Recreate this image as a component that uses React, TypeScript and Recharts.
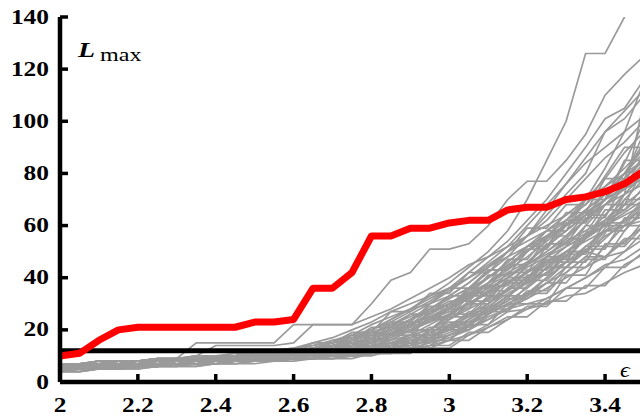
import { LineChart, Line, XAxis, YAxis } from 'recharts';

// epsilon sample points
const eps = [
  2.0, 2.05, 2.1, 2.15, 2.2, 2.25, 2.3, 2.35, 2.4, 2.45, 2.5, 2.55, 2.6, 2.65, 2.7, 2.75,
  2.8, 2.85, 2.9, 2.95, 3.0, 3.05, 3.1, 3.15, 3.2, 3.25, 3.3, 3.35, 3.4, 3.45, 3.5,
];

// highlighted run (red)
const redRun = [
  10, 11, 16, 20, 21, 21, 21, 21, 21, 21, 23, 23, 24, 36, 36, 42,
  56, 56, 59, 59, 61, 62, 62, 66, 67, 67, 70, 71, 73, 76, 81,
];

const threshold = 12;

// the grey ensemble, smoother runs
const greyRuns: number[][] = [
  [5, 5, 6, 6, 6, 7, 7, 7, 8, 8, 8, 9, 9, 10, 10, 11, 11, 12, 12, 13, 13, 18, 22, 27, 28, 30, 33, 34, 38, 42, 45],
  [4, 5, 5, 6, 6, 6, 7, 7, 7, 8, 8, 8, 9, 9, 10, 10, 11, 11, 12, 14, 18, 20, 25, 28, 30, 32, 36, 40, 45, 47, 52],
  [6, 6, 6, 7, 7, 7, 8, 8, 8, 9, 9, 10, 10, 11, 12, 13, 14, 15, 18, 20, 24, 28, 32, 35, 40, 45, 50, 55, 60, 64, 68],
  [5, 5, 6, 6, 7, 7, 8, 8, 9, 9, 10, 10, 11, 12, 13, 14, 16, 18, 20, 23, 26, 30, 35, 38, 42, 46, 52, 56, 62, 70, 78],
  [7, 7, 7, 8, 8, 8, 9, 15, 15, 15, 15, 15, 22, 22, 22, 22, 25, 28, 32, 36, 40, 45, 48, 52, 56, 60, 64, 70, 75, 80, 85],
  [4, 4, 5, 5, 6, 6, 7, 7, 8, 8, 9, 9, 10, 10, 11, 12, 12, 13, 15, 17, 20, 24, 30, 36, 42, 48, 54, 58, 62, 66, 72],
  [6, 6, 7, 7, 7, 8, 8, 9, 9, 10, 10, 11, 11, 12, 14, 16, 18, 22, 25, 28, 32, 36, 40, 46, 52, 58, 62, 68, 75, 82, 90],
  [5, 6, 6, 6, 7, 7, 7, 8, 8, 8, 9, 9, 10, 10, 11, 11, 12, 13, 14, 16, 18, 22, 26, 30, 34, 40, 46, 52, 58, 60, 62],
  [7, 7, 8, 8, 8, 9, 9, 9, 10, 10, 11, 11, 12, 13, 15, 18, 22, 25, 28, 30, 33, 38, 44, 50, 56, 64, 72, 80, 96, 101, 110],
  [6, 6, 6, 7, 7, 8, 8, 9, 9, 10, 10, 11, 12, 13, 14, 15, 17, 19, 22, 25, 28, 32, 36, 40, 45, 50, 56, 62, 68, 72, 76],
  [5, 5, 6, 6, 6, 7, 7, 7, 8, 8, 9, 9, 10, 11, 12, 13, 14, 16, 18, 22, 26, 30, 34, 38, 44, 48, 52, 56, 60, 65, 70],
  [6, 7, 7, 7, 8, 8, 8, 9, 9, 10, 10, 11, 12, 14, 16, 18, 20, 24, 28, 32, 36, 40, 45, 50, 54, 58, 64, 70, 78, 88, 96],
  [4, 5, 5, 5, 6, 6, 6, 7, 7, 8, 8, 8, 9, 9, 10, 10, 11, 12, 13, 15, 17, 20, 24, 28, 33, 38, 44, 50, 48, 50, 55],
  [7, 7, 7, 8, 8, 8, 9, 9, 10, 10, 11, 11, 12, 12, 14, 16, 19, 22, 26, 30, 35, 40, 46, 52, 60, 68, 76, 84, 90, 96, 102],
  [5, 5, 6, 6, 7, 7, 7, 8, 8, 9, 9, 10, 10, 11, 12, 13, 15, 17, 20, 24, 28, 34, 40, 46, 52, 56, 60, 66, 72, 80, 88],
  [6, 6, 7, 7, 8, 8, 8, 9, 9, 10, 10, 11, 11, 12, 13, 14, 16, 18, 21, 24, 28, 32, 38, 44, 50, 56, 62, 70, 82, 96, 115],
  [5, 5, 5, 6, 6, 7, 7, 7, 8, 8, 8, 9, 9, 10, 10, 11, 12, 13, 14, 16, 19, 22, 26, 30, 34, 38, 42, 48, 55, 62, 70],
  [6, 6, 6, 7, 7, 7, 8, 8, 9, 9, 10, 10, 11, 12, 14, 16, 18, 20, 22, 26, 30, 35, 40, 45, 50, 55, 60, 65, 70, 75, 80],
  [7, 7, 8, 8, 8, 9, 9, 10, 10, 11, 11, 12, 12, 13, 15, 17, 20, 23, 27, 31, 36, 42, 48, 54, 62, 70, 80, 90, 101, 105, 116],
  [4, 4, 5, 5, 5, 6, 6, 6, 7, 7, 8, 8, 9, 9, 10, 10, 11, 12, 13, 14, 16, 18, 21, 24, 28, 32, 36, 40, 44, 50, 58],
  [6, 6, 7, 7, 7, 8, 8, 8, 9, 9, 10, 10, 11, 11, 12, 14, 16, 18, 21, 24, 27, 30, 34, 38, 42, 46, 50, 54, 58, 62, 66],
  [5, 6, 6, 6, 7, 7, 8, 8, 8, 9, 9, 10, 10, 11, 12, 13, 15, 18, 22, 26, 30, 34, 38, 42, 46, 52, 58, 64, 70, 74, 78],
  [6, 6, 6, 7, 7, 8, 8, 8, 9, 9, 10, 10, 11, 12, 12, 13, 14, 15, 17, 19, 22, 26, 30, 35, 40, 46, 52, 60, 68, 76, 84],
  [7, 7, 7, 8, 8, 8, 9, 9, 10, 10, 11, 11, 12, 13, 14, 15, 17, 19, 22, 25, 29, 33, 38, 43, 48, 54, 60, 66, 72, 78, 85],
  [5, 5, 6, 6, 6, 7, 7, 8, 8, 8, 9, 9, 10, 10, 11, 12, 13, 14, 16, 18, 21, 25, 29, 34, 38, 42, 46, 50, 56, 60, 64],
  [6, 7, 7, 7, 8, 8, 9, 9, 10, 10, 11, 12, 13, 15, 17, 20, 23, 27, 30, 33, 36, 40, 44, 48, 52, 56, 60, 64, 68, 74, 80],
  [5, 5, 5, 6, 6, 6, 7, 7, 7, 8, 8, 9, 9, 10, 10, 11, 12, 13, 15, 17, 20, 23, 27, 31, 36, 42, 48, 55, 62, 68, 74],
  [6, 6, 7, 7, 7, 8, 8, 9, 9, 10, 10, 11, 11, 12, 13, 15, 17, 20, 24, 28, 32, 36, 42, 48, 56, 66, 76, 86, 96, 104, 112],
  [7, 7, 7, 8, 8, 9, 9, 9, 10, 10, 11, 11, 12, 13, 15, 17, 19, 21, 24, 27, 30, 33, 37, 41, 45, 49, 53, 57, 61, 66, 72],
  [4, 5, 5, 6, 6, 6, 7, 7, 8, 8, 9, 9, 10, 10, 11, 11, 12, 13, 14, 16, 18, 21, 24, 28, 32, 36, 40, 44, 48, 54, 60],
  [6, 6, 7, 7, 8, 8, 8, 9, 9, 10, 10, 11, 11, 12, 13, 14, 16, 18, 20, 23, 26, 30, 35, 40, 46, 52, 58, 64, 72, 80, 90],
  [6, 6, 7, 7, 7, 8, 8, 9, 9, 10, 10, 11, 11, 12, 14, 16, 20, 24, 28, 33, 38, 44, 50, 58, 70, 85, 100, 126, 126, 140, 155],
  [7, 7, 8, 8, 8, 9, 9, 10, 14, 14, 14, 14, 15, 22, 22, 22, 30, 39, 42, 51, 51, 53, 60, 70, 77, 77, 85, 95, 110, 118, 125],
  [5, 5, 6, 6, 6, 7, 7, 7, 8, 8, 9, 9, 10, 11, 12, 14, 17, 20, 24, 28, 33, 38, 44, 50, 56, 62, 70, 78, 86, 92, 100],
  [6, 6, 6, 7, 7, 7, 8, 8, 8, 9, 9, 10, 10, 11, 11, 12, 13, 14, 16, 18, 20, 24, 28, 33, 38, 44, 50, 56, 64, 72, 80],
  [7, 7, 7, 8, 8, 8, 9, 9, 10, 10, 11, 12, 13, 14, 15, 16, 18, 20, 22, 25, 28, 32, 36, 40, 45, 50, 55, 62, 70, 78, 86],
];

// more runs, with the stair-step plateaus seen in the reference
const steppedRuns: number[][] = [
  [5, 5, 5, 6, 6, 7, 7, 7, 7, 8, 8, 8, 9, 9, 9, 10, 12, 12, 15, 15, 21, 21, 28, 28, 35, 35, 44, 44, 52, 52, 60],
  [6, 6, 7, 7, 7, 7, 8, 8, 8, 8, 9, 9, 10, 10, 13, 13, 13, 18, 18, 25, 25, 31, 31, 40, 40, 48, 55, 55, 66, 66, 75],
  [4, 4, 5, 5, 5, 6, 6, 6, 7, 7, 7, 8, 8, 9, 9, 9, 11, 11, 11, 16, 16, 22, 22, 30, 30, 30, 41, 41, 53, 53, 62],
  [7, 7, 7, 8, 8, 8, 9, 9, 9, 10, 10, 10, 11, 11, 16, 16, 21, 21, 26, 26, 33, 33, 41, 41, 50, 58, 58, 70, 70, 85, 85],
  [5, 6, 6, 6, 7, 7, 7, 8, 8, 9, 9, 9, 10, 12, 12, 14, 14, 19, 19, 24, 24, 29, 35, 35, 43, 43, 50, 50, 61, 61, 69],
  [6, 6, 6, 7, 7, 8, 8, 8, 9, 9, 10, 10, 10, 11, 11, 13, 13, 17, 23, 23, 28, 28, 37, 37, 45, 53, 53, 63, 63, 77, 77],
  [5, 5, 6, 6, 6, 6, 7, 7, 8, 8, 8, 9, 9, 9, 10, 10, 11, 13, 13, 17, 20, 20, 26, 32, 32, 38, 38, 47, 47, 58, 66],
  [7, 7, 8, 8, 8, 9, 9, 10, 10, 10, 11, 11, 12, 15, 15, 19, 19, 27, 27, 34, 34, 42, 42, 50, 59, 59, 68, 68, 79, 90, 90],
  [6, 6, 6, 7, 7, 7, 8, 8, 8, 9, 9, 9, 10, 10, 11, 11, 12, 12, 16, 16, 22, 22, 29, 29, 37, 44, 44, 52, 52, 60, 60],
  [4, 5, 5, 5, 6, 6, 7, 7, 7, 8, 8, 9, 9, 9, 10, 11, 11, 14, 14, 20, 26, 26, 33, 33, 39, 39, 46, 46, 57, 70, 70],
  [6, 7, 7, 7, 8, 8, 8, 9, 9, 10, 10, 10, 11, 11, 14, 14, 18, 18, 24, 29, 29, 36, 36, 45, 45, 55, 65, 65, 78, 78, 96],
  [5, 5, 6, 6, 6, 7, 7, 7, 8, 8, 9, 9, 9, 10, 10, 12, 12, 15, 15, 19, 23, 23, 27, 27, 34, 34, 42, 48, 48, 55, 55],
  [7, 7, 7, 8, 8, 8, 9, 9, 9, 10, 10, 11, 11, 12, 12, 15, 15, 21, 21, 27, 31, 31, 38, 47, 47, 56, 56, 64, 64, 72, 80],
  [6, 6, 7, 7, 7, 8, 8, 8, 9, 9, 9, 10, 10, 11, 11, 12, 14, 14, 18, 18, 24, 30, 30, 38, 38, 46, 46, 57, 68, 68, 82],
  [5, 5, 5, 6, 6, 6, 7, 7, 7, 8, 8, 8, 9, 9, 10, 10, 10, 12, 12, 14, 14, 19, 19, 24, 29, 29, 36, 36, 44, 44, 50],
  [6, 6, 7, 7, 7, 8, 8, 9, 9, 9, 10, 10, 11, 11, 12, 13, 13, 16, 20, 20, 25, 25, 32, 39, 39, 47, 47, 55, 60, 60, 68],
  [7, 7, 7, 8, 8, 9, 9, 9, 10, 10, 10, 11, 12, 12, 13, 13, 16, 16, 20, 20, 26, 34, 34, 42, 42, 52, 62, 62, 74, 74, 88],
  [5, 6, 6, 6, 7, 7, 7, 8, 8, 8, 9, 9, 10, 10, 11, 11, 13, 13, 17, 17, 22, 22, 28, 36, 36, 44, 44, 51, 51, 63, 63],
  [6, 6, 6, 7, 7, 7, 8, 8, 9, 9, 10, 10, 10, 12, 12, 16, 16, 22, 22, 28, 28, 35, 43, 43, 52, 52, 61, 61, 70, 80, 92],
  [4, 5, 5, 5, 6, 6, 6, 7, 7, 7, 8, 8, 9, 9, 9, 10, 11, 11, 13, 13, 16, 16, 21, 25, 25, 31, 31, 37, 37, 45, 49],
  [7, 7, 8, 8, 8, 9, 9, 9, 10, 10, 11, 11, 11, 13, 13, 18, 18, 23, 23, 30, 36, 36, 43, 43, 51, 51, 60, 70, 70, 84, 100],
  [6, 6, 6, 7, 7, 8, 8, 8, 8, 9, 9, 10, 10, 11, 11, 12, 14, 14, 17, 21, 21, 27, 27, 33, 33, 40, 49, 49, 58, 58, 67],
  [5, 5, 6, 6, 6, 7, 7, 8, 8, 8, 9, 9, 10, 10, 11, 11, 12, 15, 15, 20, 20, 26, 26, 32, 41, 41, 50, 50, 59, 68, 68],
  [6, 7, 7, 7, 8, 8, 8, 9, 9, 10, 10, 10, 11, 12, 12, 14, 14, 19, 19, 25, 25, 33, 33, 39, 39, 48, 48, 60, 60, 72, 108],
];

const allGrey = [...greyRuns, ...steppedRuns];

const xTicks = [2, 2.2, 2.4, 2.6, 2.8, 3, 3.2, 3.4];
const yTicks = [0, 20, 40, 60, 80, 100, 120, 140];

const data = eps.map((x, i) => {
  const row: Record<string, number> = { x, red: redRun[i], thr: threshold };
  allGrey.forEach((run, k) => {
    row['g' + k] = run[i];
  });
  return row;
});

const labelFont = '"Liberation Serif", "Times New Roman", serif';
const stretch = 1.27; // the reference's lettering is drawn wide
const TICK = 8;

// bottom axis: inward tick + wide bold label
const XTick = ({ x, y, payload }: any) => (
  <g>
    <line x1={x} x2={x} y1={y} y2={y - TICK} stroke="#000" strokeWidth={3.5} />
    <text
      transform={`translate(${x},${y + 30}) scale(${stretch},1)`}
      textAnchor="middle"
      fontFamily={labelFont}
      fontWeight="bold"
      fontSize={20}
      fill="#000"
    >
      {String(payload.value)}
    </text>
  </g>
);

const YTick = ({ x, y, payload }: any) => (
  <g>
    <line x1={x} x2={x + TICK} y1={y} y2={y} stroke="#000" strokeWidth={3.5} />
    <text
      transform={`translate(${x - 11},${y + 6.5}) scale(${stretch},1)`}
      textAnchor="end"
      fontFamily={labelFont}
      fontWeight="bold"
      fontSize={20}
      fill="#000"
    >
      {String(payload.value)}
    </text>
  </g>
);

// mirror axes carry ticks only
const TopTick = ({ x, y }: any) => (
  <line x1={x} x2={x} y1={y} y2={y + TICK} stroke="#000" strokeWidth={3.5} />
);
const RightTick = ({ x, y }: any) => (
  <line x1={x} x2={x - TICK} y1={y} y2={y} stroke="#000" strokeWidth={3.5} />
);

const axisLine = { stroke: '#000', strokeWidth: 4.5 };

export default function App() {
  return (
    <div style={{ position: 'absolute', left: 0, top: 0, width: 640, height: 416, overflow: 'hidden', background: '#fff' }}>
      <LineChart width={660} height={416} data={data} margin={{ top: 17, right: 16, bottom: 0, left: 0 }}>
        <XAxis
          dataKey="x"
          type="number"
          domain={[2, 3.5]}
          ticks={xTicks}
          allowDataOverflow
          height={34}
          tickSize={0}
          tickMargin={0}
          axisLine={axisLine}
          tickLine={false}
          tick={<XTick />}
        />
        <XAxis
          xAxisId="top"
          orientation="top"
          dataKey="x"
          type="number"
          domain={[2, 3.5]}
          ticks={xTicks}
          allowDataOverflow
          height={0}
          tickSize={0}
          tickMargin={0}
          axisLine={axisLine}
          tickLine={false}
          tick={<TopTick />}
        />
        <YAxis
          type="number"
          domain={[0, 140]}
          ticks={yTicks}
          allowDataOverflow
          width={60}
          tickSize={0}
          tickMargin={0}
          axisLine={axisLine}
          tickLine={false}
          tick={<YTick />}
        />
        <YAxis
          yAxisId="right"
          orientation="right"
          type="number"
          domain={[0, 140]}
          ticks={yTicks}
          allowDataOverflow
          width={0}
          tickSize={0}
          tickMargin={0}
          axisLine={axisLine}
          tickLine={false}
          tick={<RightTick />}
        />
        {allGrey.map((_, k) => (
          <Line
            key={k}
            type="linear"
            dataKey={'g' + k}
            stroke="#9a9a9a"
            strokeWidth={1.7}
            dot={false}
            isAnimationActive={false}
          />
        ))}
        <Line type="linear" dataKey="thr" stroke="#000" strokeWidth={5} dot={false} isAnimationActive={false} />
        <Line type="linear" dataKey="red" stroke="#ff0000" strokeWidth={7} strokeLinejoin="round" dot={false} isAnimationActive={false} />
      </LineChart>
      <svg width={640} height={416} style={{ position: 'absolute', left: 0, top: 0, pointerEvents: 'none' }}>
        <text transform={`translate(78,57) scale(${stretch},1)`} fontFamily={labelFont} fontStyle="italic" fontWeight="bold" fontSize={22} fill="#000">
          L
        </text>
        <text transform={`translate(100,61) scale(${stretch},1)`} fontFamily={labelFont} fontSize={19} fill="#000">
          max
        </text>
        <text transform={`translate(620,377) scale(1.1,1)`} fontFamily={labelFont} fontStyle="italic" fontSize={22} fill="#000">
          ϵ
        </text>
      </svg>
    </div>
  );
}
